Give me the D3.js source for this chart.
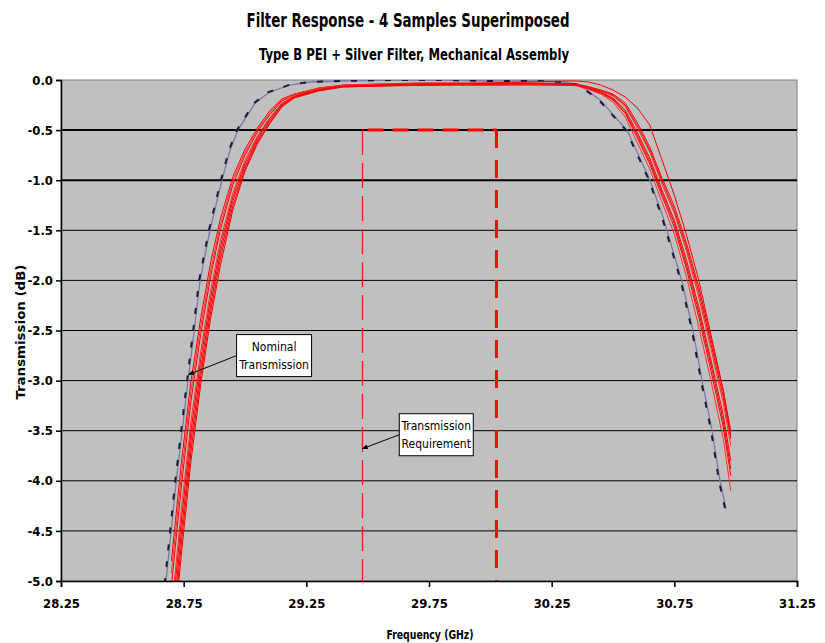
<!DOCTYPE html>
<html>
<head>
<meta charset="utf-8">
<script src="https://cdn.jsdelivr.net/npm/d3@7"></script>
<style>
  body { margin: 0; background: #fff; }
  text { font-family: "Liberation Sans Narrow", "Arial Narrow", "DejaVu Sans Condensed", sans-serif; }
</style>
</head>
<body>
<svg id="chart" width="825" height="643"></svg>
<script>
var width = 825, height = 643;
var margin = { top: 80, right: 28, bottom: 62, left: 61 };

// x ticks (GHz) and y ticks (dB)
var xTicks = [28.25, 28.75, 29.25, 29.75, 30.25, 30.75, 31.25];
var yTicks = [0, -0.5, -1, -1.5, -2, -2.5, -3, -3.5, -4, -4.5, -5];

// nominal (design) response
var nominalFreq = [28.670, 28.678, 28.699, 28.720, 28.744, 28.768, 28.793, 28.817, 28.857, 28.906, 28.939, 28.971,
  29.041, 29.100, 29.183, 29.265, 29.400, 29.600, 29.800, 30.000, 30.200, 30.300, 30.365, 30.447, 30.557,
  30.651, 30.704, 30.780, 30.826, 30.863, 30.904, 30.936, 30.961];
var nominalDb = [-5.2, -5.0, -4.5, -4.0, -3.5, -3.0, -2.5, -2.0, -1.5, -1.0, -0.7, -0.5,
  -0.23, -0.12, -0.05, -0.02, -0.01, 0.0, 0.0, -0.01, -0.01, -0.02, -0.05, -0.2, -0.5,
  -1.0, -1.37, -2.0, -2.5, -3.0, -3.5, -4.0, -4.28];

// measured traces, 4 samples (two sweeps each), common frequency grid
var sweepFreq = [28.70, 28.74, 28.78, 28.82, 28.86, 28.90, 28.95, 29.00, 29.05, 29.10, 29.15, 29.20, 29.30, 29.40,
  29.55, 29.70, 29.85, 30.00, 30.15, 30.30,
  30.35, 30.40, 30.45, 30.50, 30.55, 30.60, 30.65, 30.70, 30.75, 30.80, 30.85, 30.90, 30.95, 30.98];
var sample1a = [-4.80, -3.83, -3.00, -2.37, -1.82, -1.38, -0.97, -0.69, -0.48, -0.31, -0.19, -0.14, -0.08, -0.05,
  -0.04, -0.03, -0.03, -0.03, -0.03, -0.035,
  -0.04, -0.066, -0.10, -0.14, -0.23, -0.43, -0.67, -0.98, -1.26, -1.63, -2.07, -2.59, -3.11, -3.50];
var sample1b = [-5.05, -4.07, -3.20, -2.53, -1.96, -1.49, -1.05, -0.75, -0.52, -0.35, -0.21, -0.15, -0.085, -0.055,
  -0.045, -0.04, -0.035, -0.04, -0.04, -0.045,
  -0.05, -0.08, -0.12, -0.18, -0.30, -0.53, -0.78, -1.10, -1.40, -1.80, -2.27, -2.80, -3.35, -3.80];
var sample2a = [-5.30, -4.30, -3.40, -2.70, -2.10, -1.60, -1.13, -0.80, -0.56, -0.38, -0.23, -0.16, -0.09, -0.06,
  -0.05, -0.045, -0.04, -0.045, -0.04, -0.04,
  -0.046, -0.073, -0.11, -0.16, -0.265, -0.48, -0.72, -1.04, -1.33, -1.71, -2.17, -2.69, -3.23, -3.65];
var sample2b = [-5.55, -4.53, -3.60, -2.87, -2.24, -1.72, -1.21, -0.86, -0.60, -0.41, -0.25, -0.17, -0.10, -0.065,
  -0.055, -0.05, -0.05, -0.05, -0.045, -0.05,
  -0.054, -0.087, -0.13, -0.20, -0.335, -0.58, -0.84, -1.16, -1.47, -1.89, -2.37, -2.91, -3.47, -3.95];
var sample3a = [-5.80, -4.75, -3.80, -3.03, -2.38, -1.85, -1.30, -0.91, -0.64, -0.44, -0.27, -0.18, -0.11, -0.07,
  -0.06, -0.05, -0.04, -0.03, -0.02, -0.01,
  -0.01, -0.02, -0.05, -0.10, -0.17, -0.28, -0.45, -0.80, -1.15, -1.55, -2.00, -2.55, -3.10, -3.55];
var sample3b = [-4.92, -3.96, -3.10, -2.45, -1.90, -1.44, -1.01, -0.72, -0.50, -0.33, -0.20, -0.145, -0.082, -0.052,
  -0.04, -0.035, -0.035, -0.04, -0.045, -0.05,
  -0.058, -0.094, -0.14, -0.22, -0.37, -0.63, -0.89, -1.22, -1.54, -1.97, -2.47, -3.01, -3.59, -4.10];
var sample4a = [-5.42, -4.41, -3.50, -2.78, -2.17, -1.66, -1.17, -0.83, -0.58, -0.39, -0.24, -0.165, -0.095, -0.062,
  -0.05, -0.04, -0.035, -0.035, -0.035, -0.04,
  -0.043, -0.07, -0.105, -0.15, -0.25, -0.46, -0.70, -1.01, -1.30, -1.67, -2.12, -2.64, -3.17, -3.58];
var sample4b = [-5.68, -4.64, -3.70, -2.95, -2.31, -1.78, -1.26, -0.89, -0.62, -0.43, -0.26, -0.175, -0.105, -0.068,
  -0.06, -0.055, -0.05, -0.05, -0.05, -0.05,
  -0.052, -0.083, -0.125, -0.19, -0.32, -0.555, -0.81, -1.13, -1.43, -1.85, -2.32, -2.85, -3.41, -3.88];
var sweeps = [sample1a, sample1b, sample2a, sample2b, sample3a, sample3b, sample4a, sample4b];

// transmission requirement mask
var reqFreq = [29.475, 30.025];
var reqLevel = -0.5;

// callouts: text lines and the point the arrow points at
var calloutText = [["Nominal", "Transmission"], ["Transmission", "Requirement"]];
var calloutTarget = [[28.77, -2.94], [29.478, -3.68]];

var svg = d3.select('#chart');
var plotW = width - margin.left - margin.right,
    plotH = height - margin.top - margin.bottom;

var x = d3.scaleLinear().domain([28.25, 31.25]).range([margin.left, margin.left + plotW]);
var y = d3.scaleLinear().domain([0, -5]).range([margin.top, margin.top + plotH]);

var defs = svg.append('defs');
defs.append('clipPath').attr('id', 'clip')
  .append('rect')
  .attr('x', margin.left).attr('y', margin.top)
  .attr('width', plotW).attr('height', plotH);
defs.append('marker')
  .attr('id', 'arrow')
  .attr('viewBox', '0 0 10 10')
  .attr('refX', 9).attr('refY', 5)
  .attr('markerWidth', 7).attr('markerHeight', 6)
  .attr('orient', 'auto')
  .append('path').attr('d', 'M0,1 L10,5 L0,9 z').attr('fill', '#000');

// plot area
svg.append('rect')
  .attr('x', margin.left).attr('y', margin.top)
  .attr('width', plotW).attr('height', plotH)
  .attr('fill', '#c0c0c0')
  .attr('stroke', '#808080');

// gridlines
svg.append('g').selectAll('line')
  .data(yTicks.filter(d => d !== 0 && d !== -5))
  .enter().append('line')
  .attr('x1', margin.left).attr('x2', margin.left + plotW)
  .attr('y1', d => y(d)).attr('y2', d => y(d))
  .attr('stroke', '#000')
  .attr('stroke-width', d => (d === -0.5 || d === -1) ? 2 : 1);

var plot = svg.append('g').attr('clip-path', 'url(#clip)');

var line = d3.line()
  .x(d => x(d[0]))
  .y(d => y(d[1]));

// requirement mask
plot.append('line')
  .attr('x1', Math.round(x(reqFreq[0])) + 0.5).attr('x2', Math.round(x(reqFreq[0])) + 0.5)
  .attr('y1', y(reqLevel)).attr('y2', y(-5))
  .attr('stroke', '#ff1818').attr('stroke-width', 1.3)
  .attr('stroke-dasharray', '25,8');
plot.append('line')
  .attr('x1', x(reqFreq[0]) + 1).attr('x2', x(reqFreq[1]))
  .attr('y1', y(reqLevel)).attr('y2', y(reqLevel))
  .attr('stroke', '#ff0000').attr('stroke-width', 3)
  .attr('stroke-dasharray', '16,9')
  .attr('stroke-dashoffset', -5);
plot.append('line')
  .attr('x1', x(reqFreq[1])).attr('x2', x(reqFreq[1]))
  .attr('y1', y(reqLevel)).attr('y2', y(-5))
  .attr('stroke', '#ff0000').attr('stroke-width', 3)
  .attr('stroke-dasharray', '18,12');

// nominal
var nominal = nominalFreq.map((f, i) => [f, nominalDb[i]]);
plot.append('path')
  .datum(nominal)
  .attr('d', line)
  .attr('fill', 'none')
  .attr('stroke', '#7a7aa8')
  .attr('stroke-width', 1.3);
plot.append('path')
  .datum(nominal)
  .attr('d', line)
  .attr('transform', 'translate(-1,0)')
  .attr('fill', 'none')
  .attr('stroke', '#1c1c34')
  .attr('stroke-width', 2)
  .attr('stroke-dasharray', '6,11');

// measured sweeps
plot.selectAll('path.sweep')
  .data(sweeps)
  .enter().append('path')
  .attr('class', 'sweep')
  .attr('d', s => line(sweepFreq.map((f, i) => [f, s[i]])))
  .attr('fill', 'none')
  .attr('stroke', (d, i) => i % 3 === 2 ? '#ff3030' : '#ff0000')
  .attr('stroke-width', 1);

// axes
var yAxis = d3.axisLeft(y).tickValues(yTicks).tickSize(5).tickFormat(d => d.toFixed(1));
var xAxis = d3.axisBottom(x).tickValues(xTicks).tickSize(6).tickFormat(d => d.toFixed(2));

var gy = svg.append('g').attr('transform', 'translate(' + margin.left + ',0)').call(yAxis);
var gx = svg.append('g').attr('transform', 'translate(0,' + (margin.top + plotH) + ')').call(xAxis);

[gx, gy].forEach(function (g) {
  g.select('.domain').attr('stroke', '#000').attr('stroke-width', 1.5);
  g.selectAll('.tick line').attr('stroke', '#000').attr('stroke-width', 1.5);
  g.selectAll('.tick text')
    .attr('fill', '#000')
    .attr('font-size', 13)
    .attr('font-weight', 'bold')
    .style('font-family', '"Liberation Sans Narrow", "Arial Narrow", "DejaVu Sans Condensed", sans-serif');
});
gy.selectAll('.tick text').attr('x', -8);
gx.selectAll('.tick text').attr('y', 18);

// callouts
var boxSize = [[75, 42], [74, 42]];
var boxOffset = [[48, -40], [37, -35]];
calloutText.forEach(function (lines, i) {
  var tx = x(calloutTarget[i][0]), ty = y(calloutTarget[i][1]);
  var bx = tx + boxOffset[i][0], by = ty + boxOffset[i][1];
  var g = svg.append('g');
  g.append('line')
    .attr('x1', bx).attr('y1', by + 21)
    .attr('x2', tx).attr('y2', ty)
    .attr('stroke', '#000').attr('stroke-width', 1)
    .attr('marker-end', 'url(#arrow)');
  g.append('rect')
    .attr('x', bx).attr('y', by)
    .attr('width', boxSize[i][0]).attr('height', boxSize[i][1])
    .attr('fill', '#fff').attr('stroke', '#000').attr('stroke-width', 1);
  g.selectAll('text').data(lines).enter().append('text')
    .attr('x', bx + boxSize[i][0] / 2)
    .attr('y', (d, j) => by + 16 + j * 18)
    .attr('text-anchor', 'middle')
    .attr('font-size', 12)
    .attr('fill', '#000')
    .text(d => d);
});

// titles
svg.append('text')
  .attr('x', 408).attr('y', 27)
  .attr('text-anchor', 'middle')
  .attr('font-size', 19).attr('font-weight', 'bold')
  .attr('textLength', 323).attr('lengthAdjust', 'spacingAndGlyphs')
  .text('Filter Response - 4 Samples Superimposed');
svg.append('text')
  .attr('x', 414).attr('y', 60)
  .attr('text-anchor', 'middle')
  .attr('font-size', 15).attr('font-weight', 'bold')
  .attr('textLength', 310).attr('lengthAdjust', 'spacingAndGlyphs')
  .text('Type B PEI + Silver Filter, Mechanical Assembly');
svg.append('text')
  .attr('x', 430).attr('y', 639)
  .attr('text-anchor', 'middle')
  .attr('font-size', 13).attr('font-weight', 'bold')
  .attr('textLength', 87).attr('lengthAdjust', 'spacingAndGlyphs')
  .text('Frequency (GHz)');
svg.append('text')
  .attr('transform', 'translate(25,332) rotate(-90)')
  .attr('text-anchor', 'middle')
  .attr('font-size', 13).attr('font-weight', 'bold')
  .attr('textLength', 135).attr('lengthAdjust', 'spacingAndGlyphs')
  .text('Transmission (dB)');
</script>
</body>
</html>
